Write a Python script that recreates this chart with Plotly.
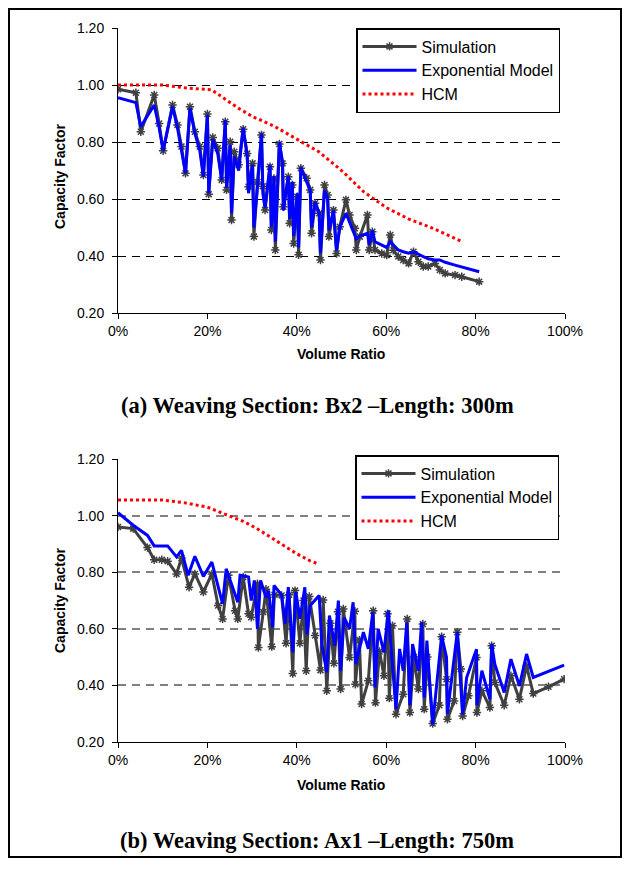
import plotly.graph_objects as go

# ---------------- Data: (a) Bx2, 300m ----------------
a_x = [0.0, 4.0, 5.1, 8.1, 9.2, 10.1, 12.2, 13.3, 14.2, 15.1, 16.1, 17.2, 18.3, 19.1, 20.0, 20.3,
       21.2, 22.3, 23.2, 24.0, 24.3, 25.1, 25.4, 26.0, 27.0, 28.0, 28.9, 29.2, 30.1, 30.4, 31.2,
       32.1, 32.4, 32.9, 34.0, 34.3, 34.9, 35.2, 36.1, 36.8, 37.0, 38.1, 38.4, 39.0, 39.3, 40.1,
       40.4, 40.9, 42.2, 43.0, 43.3, 44.1, 45.0, 45.3, 46.2, 46.9, 47.2, 48.2, 48.9, 49.6, 51.0,
       51.8, 53.0, 53.3, 54.1, 55.8, 56.2, 56.9, 57.5, 59.0, 60.1, 60.9, 61.6, 62.7, 63.8, 65.0,
       66.1, 67.2, 68.3, 69.4, 70.9, 72.0, 73.2, 75.4, 76.9, 80.8]
a_sim = [0.985, 0.973, 0.836, 0.965, 0.865, 0.769, 0.930, 0.860, 0.784, 0.690, 0.924, 0.836, 0.784,
         0.684, 0.898, 0.617, 0.816, 0.778, 0.667, 0.871, 0.632, 0.801, 0.526, 0.766, 0.720, 0.845,
         0.760, 0.643, 0.725, 0.468, 0.660, 0.825, 0.645, 0.561, 0.713, 0.491, 0.672, 0.421, 0.793,
         0.725, 0.573, 0.678, 0.515, 0.649, 0.444, 0.608, 0.404, 0.708, 0.673, 0.632, 0.480, 0.585,
         0.550, 0.386, 0.649, 0.614, 0.468, 0.561, 0.409, 0.503, 0.597, 0.544, 0.497, 0.421, 0.468,
         0.544, 0.421, 0.485, 0.421, 0.409, 0.403, 0.474, 0.420, 0.398, 0.386, 0.374, 0.415, 0.380,
         0.363, 0.363, 0.374, 0.351, 0.339, 0.333, 0.327, 0.310]
a_exp = [0.955, 0.938, 0.854, 0.930, 0.850, 0.769, 0.924, 0.850, 0.770, 0.690, 0.918, 0.830, 0.770,
         0.678, 0.895, 0.620, 0.810, 0.760, 0.667, 0.877, 0.640, 0.790, 0.550, 0.750, 0.700, 0.850,
         0.750, 0.620, 0.720, 0.500, 0.640, 0.830, 0.620, 0.570, 0.720, 0.500, 0.680, 0.450, 0.800,
         0.730, 0.560, 0.680, 0.530, 0.660, 0.470, 0.620, 0.430, 0.710, 0.660, 0.630, 0.500, 0.590,
         0.550, 0.410, 0.630, 0.600, 0.490, 0.560, 0.420, 0.500, 0.550, 0.520, 0.470, 0.460, 0.470,
         0.480, 0.440, 0.490, 0.450, 0.440, 0.430, 0.450, 0.438, 0.421, 0.415, 0.410, 0.415, 0.405,
         0.398, 0.390, 0.386, 0.386, 0.378, 0.368, 0.362, 0.345]
a_hcm_x = [0, 5, 10, 15, 21, 24, 27, 30, 35, 40, 45, 50, 55, 60, 65, 70, 75, 77]
a_hcm = [1.000, 1.000, 1.000, 0.990, 0.983, 0.950, 0.918, 0.890, 0.855, 0.810, 0.765, 0.700, 0.625,
         0.570, 0.530, 0.500, 0.465, 0.450]

# ---------------- Data: (b) Ax1, 750m ----------------
b_sim_x = [0.0, 3.4, 6.6, 8.1, 9.8, 11.1, 13.1, 14.2, 15.9, 17.2, 19.1, 21.0, 22.4, 23.4, 24.7,
           26.2, 26.8, 28.0, 29.2, 29.8, 31.2, 31.4, 32.5, 33.1, 34.4, 35.0, 36.6, 37.6, 38.3,
           39.1, 39.6, 40.7, 41.5, 42.1, 42.8, 44.1, 45.3, 45.9, 46.7, 47.5, 48.3, 49.2, 49.8,
           50.4, 51.8, 53.0, 53.1, 54.0, 54.5, 56.0, 57.1, 57.6, 58.5, 59.5, 60.3, 60.7, 61.4,
           62.2, 63.8, 64.7, 65.3, 66.2, 67.2, 68.2, 68.5, 69.2, 70.4, 71.9, 72.4, 73.5, 73.7,
           75.2, 75.9, 76.7, 77.1, 78.4, 80.2, 80.3, 81.4, 83.2, 83.6, 84.3, 86.4, 87.9, 89.8,
           91.4, 92.9, 96.3, 99.8]
b_sim = [0.960, 0.954, 0.887, 0.844, 0.844, 0.839, 0.794, 0.850, 0.747, 0.794, 0.730, 0.794, 0.682,
         0.635, 0.789, 0.664, 0.635, 0.783, 0.653, 0.641, 0.759, 0.534, 0.659, 0.740, 0.537, 0.720,
         0.718, 0.549, 0.720, 0.442, 0.735, 0.549, 0.700, 0.452, 0.714, 0.576, 0.454, 0.702, 0.381,
         0.620, 0.478, 0.660, 0.387, 0.670, 0.499, 0.662, 0.404, 0.560, 0.334, 0.416, 0.664, 0.339,
         0.520, 0.434, 0.653, 0.355, 0.611, 0.298, 0.369, 0.635, 0.304, 0.500, 0.387, 0.617, 0.316,
         0.500, 0.265, 0.330, 0.572, 0.422, 0.280, 0.345, 0.588, 0.458, 0.292, 0.363, 0.499, 0.304,
         0.381, 0.322, 0.540, 0.410, 0.330, 0.434, 0.351, 0.469, 0.371, 0.395, 0.422]
b_exp_x = [0.0, 3.4, 6.6, 8.1, 11.1, 13.1, 14.2, 15.7, 17.2, 19.1, 21.0, 23.4, 24.2, 26.8, 27.3,
           29.2, 29.8, 30.5, 31.2, 31.9, 33.1, 33.7, 34.6, 34.9, 36.6, 37.4, 38.1, 39.1, 39.8,
           40.7, 41.8, 42.3, 43.0, 45.0, 45.6, 46.7, 47.3, 48.5, 49.3, 49.8, 50.6, 51.8, 52.6,
           53.2, 54.9, 56.0, 57.0, 57.5, 58.2, 59.5, 60.5, 60.9, 62.2, 63.0, 63.8, 64.6, 65.3,
           65.9, 67.2, 67.9, 68.5, 69.1, 70.4, 72.4, 73.5, 73.7, 75.9, 77.1, 78.0, 80.2, 80.3,
           81.4, 83.2, 83.6, 84.3, 86.4, 87.9, 89.8, 91.4, 92.9, 99.8]
b_exp = [1.010, 0.966, 0.930, 0.893, 0.893, 0.854, 0.877, 0.789, 0.856, 0.785, 0.836, 0.688, 0.812,
         0.694, 0.789, 0.783, 0.700, 0.771, 0.600, 0.771, 0.710, 0.735, 0.605, 0.753, 0.720, 0.617,
         0.747, 0.517, 0.730, 0.635, 0.747, 0.580, 0.682, 0.718, 0.546, 0.446, 0.647, 0.540, 0.700,
         0.452, 0.640, 0.600, 0.694, 0.475, 0.588, 0.529, 0.658, 0.393, 0.600, 0.517, 0.665, 0.570,
         0.316, 0.529, 0.452, 0.623, 0.330, 0.546, 0.452, 0.623, 0.357, 0.558, 0.262, 0.576, 0.499,
         0.300, 0.588, 0.298, 0.428, 0.528, 0.330, 0.452, 0.351, 0.546, 0.475, 0.375, 0.493, 0.398,
         0.511, 0.428, 0.472]
b_hcm_x = [0, 5, 10, 15, 20, 25, 28, 31, 34, 37, 40, 43, 45]
b_hcm = [1.055, 1.055, 1.055, 1.045, 1.030, 0.998, 0.980, 0.955, 0.925, 0.895, 0.865, 0.840, 0.828]

x_ticks = [0, 20, 40, 60, 80, 100]
y_ticks = [0.2, 0.4, 0.6, 0.8, 1.0, 1.2]
series_names = ["Simulation", "Exponential Model", "HCM"]
captions = ["(a) Weaving Section: Bx2 \u2013Length: 300m", "(b) Weaving Section: Ax1 \u2013Length: 750m"]

# The page body adds an 8px offset; size the figure so the page needs no scrollbars.
OFF = 8
W, H = 614, 853
def px(x): return (x - OFF) / W
def py(y): return 1 - (y - OFF) / H

SIM_C = "#404040"
EXP_C = "#0000FF"
HCM_C = "#FF0000"

fig = go.Figure()

def add_panel(sx, sy, ex, ey, hx, hy, xa, ya, leg):
    fig.add_trace(go.Scatter(x=sx, y=sy, name=series_names[0], mode="lines+markers",
                             line=dict(color=SIM_C, width=3),
                             marker=dict(symbol="asterisk-open", size=7, color=SIM_C,
                                         line=dict(color=SIM_C, width=1.5)),
                             xaxis=xa, yaxis=ya, legend=leg))
    fig.add_trace(go.Scatter(x=ex, y=ey, name=series_names[1], mode="lines",
                             line=dict(color=EXP_C, width=3),
                             xaxis=xa, yaxis=ya, legend=leg))
    fig.add_trace(go.Scatter(x=hx, y=hy, name=series_names[2], mode="lines",
                             line=dict(color=HCM_C, width=3, dash="dot"),
                             xaxis=xa, yaxis=ya, legend=leg))

add_panel(a_x, a_sim, a_x, a_exp, a_hcm_x, a_hcm, "x", "y", "legend")
add_panel(b_sim_x, b_sim, b_exp_x, b_exp, b_hcm_x, b_hcm, "x2", "y2", "legend2")

tickfont = dict(family="Liberation Sans, Arial", size=14, color="black")

def xaxis_cfg(anchor):
    return dict(range=[0, 100], tickvals=x_ticks, ticktext=[f"{v}%" for v in x_ticks],
                domain=[px(118), px(565)], anchor=anchor, showgrid=False, zeroline=False,
                showline=True, linecolor="black", linewidth=1, ticks="outside", ticklen=5,
                tickcolor="black", tickfont=tickfont, automargin=False, fixedrange=True)

def yaxis_cfg(anchor, dom, gridcolor, gridwidth):
    return dict(range=[0.2, 1.2], tickvals=y_ticks, ticktext=[f"{v:.2f}" for v in y_ticks],
                domain=dom, anchor=anchor, showgrid=True, gridcolor=gridcolor, gridwidth=gridwidth,
                griddash="8px,6px", zeroline=False, showline=True, linecolor="black", linewidth=1,
                ticks="outside", ticklen=5, tickcolor="black", tickfont=tickfont,
                ticklabelstandoff=5, automargin=False, fixedrange=True)

legend_common = dict(bgcolor="white", bordercolor="black", borderwidth=1.5,
                     font=dict(family="Liberation Sans, Arial", size=16, color="black"),
                     xanchor="left", yanchor="top", itemwidth=54, tracegroupgap=0)

fig.update_layout(
    width=W, height=H, margin=dict(l=0, r=0, t=0, b=0),
    paper_bgcolor="white", plot_bgcolor="white", showlegend=True,
    xaxis=xaxis_cfg("y"),
    yaxis=yaxis_cfg("x", [py(313), py(28)], "black", 1),
    xaxis2=xaxis_cfg("y2"),
    yaxis2=yaxis_cfg("x2", [py(742), py(459)], "#808080", 2),
    legend=dict(x=px(356), y=py(28), **legend_common),
    legend2=dict(x=px(355), y=py(455), **legend_common),
)

ann_font = dict(family="Liberation Sans, Arial", size=14, color="black")
cap_font = dict(family="Liberation Serif, Times New Roman", size=22.5, color="black")
for yc, xt_y, cap_y, cap in [(176, 354, 405, captions[0]), (600, 785, 840, captions[1])]:
    fig.add_annotation(text="<b>Capacity Factor</b>", x=px(60), y=py(yc), xref="paper", yref="paper",
                       textangle=-90, showarrow=False, font=ann_font, xanchor="center", yanchor="middle")
    fig.add_annotation(text="<b>Volume Ratio</b>", x=px(341), y=py(xt_y), xref="paper", yref="paper",
                       showarrow=False, font=ann_font, xanchor="center", yanchor="middle")
    fig.add_annotation(text=f"<b>{cap}</b>", x=px(317), y=py(cap_y), xref="paper", yref="paper",
                       showarrow=False, font=cap_font, xanchor="center", yanchor="middle")

# Outer frame (kept just inside the figure so all four sides are drawn)
fig.add_shape(type="rect", xref="paper", yref="paper", x0=px(9), y0=py(857), x1=px(621), y1=py(9),
              line=dict(color="black", width=2), layer="above")

fig.write_html("out.html")
